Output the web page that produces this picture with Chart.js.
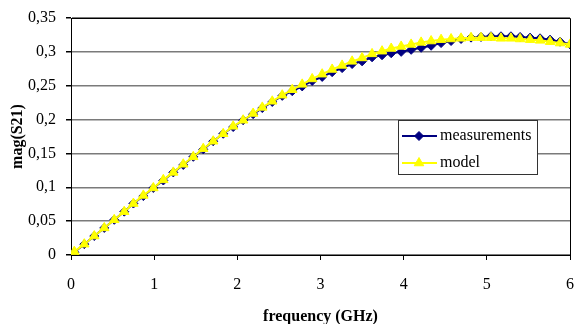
<!DOCTYPE html>
<html><head><meta charset="utf-8">
<script src="https://cdn.jsdelivr.net/npm/chart.js@4/dist/chart.umd.min.js"></script>
<style>html,body{margin:0;padding:0;background:#fff}#wrap{width:574px;height:324px;position:relative}canvas{display:block}</style>
</head><body><div id="wrap"><canvas id="c" width="574" height="324"></canvas></div>
<script>
const frequencyGHz = [0.04,0.16,0.28,0.40,0.52,0.64,0.75,0.87,0.99,1.11,1.23,1.35,1.47,1.59,1.71,1.83,1.95,2.07,2.19,2.30,2.42,2.54,2.66,2.78,2.90,3.02,3.14,3.26,3.38,3.50,3.62,3.74,3.85,3.97,4.09,4.21,4.33,4.45,4.57,4.69,4.81,4.93,5.05,5.17,5.29,5.40,5.52,5.64,5.76,5.88,6.00];
const measurements = [0.004,0.016,0.028,0.040,0.052,0.064,0.076,0.087,0.099,0.110,0.122,0.133,0.145,0.156,0.168,0.179,0.189,0.199,0.208,0.217,0.226,0.235,0.242,0.249,0.257,0.263,0.270,0.276,0.282,0.286,0.292,0.295,0.298,0.300,0.303,0.306,0.309,0.313,0.316,0.319,0.321,0.322,0.323,0.323,0.323,0.322,0.321,0.320,0.318,0.315,0.311];
const model = [0.005,0.016,0.028,0.040,0.052,0.064,0.076,0.088,0.099,0.111,0.122,0.134,0.145,0.157,0.168,0.179,0.190,0.199,0.209,0.218,0.227,0.236,0.244,0.252,0.260,0.267,0.274,0.280,0.286,0.291,0.297,0.301,0.305,0.308,0.311,0.314,0.316,0.318,0.319,0.320,0.321,0.321,0.321,0.320,0.320,0.319,0.318,0.317,0.315,0.313,0.311];
const xTicks = [0,1,2,3,4,5,6];
const yTicks = [0,0.05,0.1,0.15,0.2,0.25,0.3,0.35];
const yTickLabels = ['0','0,05','0,1','0,15','0,2','0,25','0,3','0,35'];
const seriesNames = ['measurements','model'];

const FONT = "'Liberation Serif','Times New Roman',serif";
const NAVY = '#000080', YELLOW = '#FFFF00';

const frame = {
  id:'frame',
  beforeDatasetsDraw(chart){
    const {ctx, chartArea:a} = chart;
    ctx.save(); ctx.strokeStyle='#000'; ctx.lineWidth=1;
    ctx.beginPath();
    ctx.moveTo(a.left, a.top+0.5); ctx.lineTo(a.right+0.5, a.top+0.5); ctx.lineTo(a.right+0.5, a.bottom);
    ctx.stroke(); ctx.restore();
  }
};
const legendBox = {
  id:'legendBox',
  afterDraw(chart){
    const {ctx, chartArea:a} = chart;
    const x0 = a.right - 172, y0 = a.top + 102, w = 139, h = 54;
    ctx.save();
    ctx.fillStyle='#fff'; ctx.fillRect(x0,y0,w,h);
    ctx.strokeStyle='#333'; ctx.lineWidth=1; ctx.strokeRect(x0+0.5,y0+0.5,w,h);
    const items = [{y:y0+16, ds:chart.data.datasets[0]},{y:y0+43, ds:chart.data.datasets[1]}];
    items.forEach(it=>{
      ctx.strokeStyle=it.ds.borderColor; ctx.lineWidth=2;
      ctx.beginPath(); ctx.moveTo(x0+4,it.y); ctx.lineTo(x0+39,it.y); ctx.stroke();
      ctx.fillStyle=it.ds.pointBackgroundColor; ctx.strokeStyle=it.ds.pointBorderColor; ctx.lineWidth=1;
      Chart.helpers.drawPoint(ctx,{pointStyle:it.ds.pointStyle,radius:it.ds.pointRadius,borderWidth:1,rotation:0},x0+21,it.y);
      ctx.fillStyle='#000'; ctx.font='16px '+FONT; ctx.textBaseline='middle'; ctx.textAlign='left';
      ctx.fillText(it.ds.label, x0+42, it.y);
    });
    ctx.restore();
  }
};

new Chart(document.getElementById('c'), {
  type:'line',
  data:{
    datasets:[
      {label:seriesNames[0], data:frequencyGHz.map((f,i)=>({x:f,y:measurements[i]})),
       borderColor:NAVY, backgroundColor:NAVY, borderWidth:2, pointStyle:'rectRot', pointRadius:4.5,
       pointBackgroundColor:NAVY, pointBorderColor:NAVY, pointBorderWidth:1, order:1, tension:0},
      {label:seriesNames[1], data:frequencyGHz.map((f,i)=>({x:f,y:model[i]})),
       borderColor:YELLOW, backgroundColor:YELLOW, borderWidth:2, pointStyle:'triangle', pointRadius:5.5,
       pointBackgroundColor:YELLOW, pointBorderColor:YELLOW, pointBorderWidth:1, order:0, tension:0}
    ]
  },
  options:{
    responsive:false, animation:false, devicePixelRatio:1,
    layout:{autoPadding:false, padding:{left:0,top:18,right:4,bottom:0}},
    plugins:{legend:{display:false}, tooltip:{enabled:false}},
    scales:{
      x:{type:'linear', min:0, max:6,
        afterBuildTicks:s=>{s.ticks = xTicks.map(v=>({value:v}));},
        afterFit:s=>{s.height = 69; s.paddingLeft = 0; s.paddingRight = 0;},
        ticks:{color:'#000', font:{family:FONT,size:16}, padding:15, maxRotation:0, callback:v=>String(v)},
        grid:{drawOnChartArea:false, drawTicks:true, tickLength:5, color:'#000', tickColor:'#000'},
        border:{color:'#000', width:1},
        title:{display:true, text:'frequency (GHz)', color:'#000', font:{family:FONT,size:16,weight:'bold'}, padding:{top:0,bottom:-2}}
      },
      y:{type:'linear', min:0, max:0.35,
        afterBuildTicks:s=>{s.ticks = yTicks.map(v=>({value:v}));},
        afterFit:s=>{s.width = 71; s.paddingTop = 0; s.paddingBottom = 0;},
        ticks:{color:'#000', font:{family:FONT,size:16}, padding:10, callback:(v)=>yTickLabels[yTicks.findIndex(t=>Math.abs(t-v)<1e-9)]},
        grid:{drawOnChartArea:true, color:'#7a7a7a', lineWidth:1.5, tickColor:'#000', tickLength:5},
        border:{color:'#000', width:1},
        title:{display:true, text:'mag(S21)', color:'#000', font:{family:FONT,size:16,weight:'bold'}, padding:{top:8,bottom:0}}
      }
    }
  },
  plugins:[frame, legendBox]
});
</script>
</body></html>
